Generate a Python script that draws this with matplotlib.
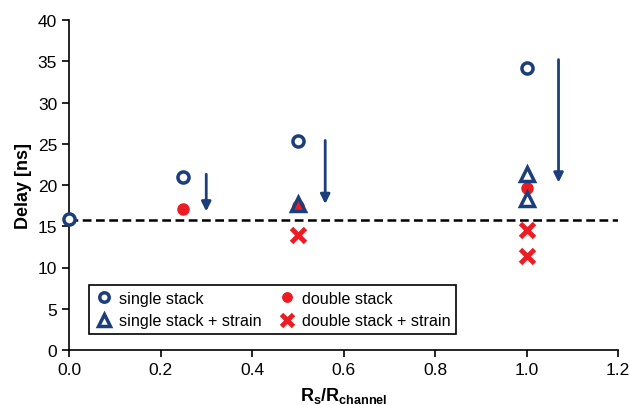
import matplotlib
matplotlib.use("Agg")
import matplotlib.pyplot as plt

plt.rcParams['font.family'] = ['Liberation Sans', 'DejaVu Sans']

navy = '#1c3f7c'
red = '#ec1c24'

ss_x = [0.0, 0.25, 0.5, 1.0]
ss_y = [15.9, 21.0, 25.3, 34.2]
ds_x = [0.25, 0.5, 1.0]
ds_y = [17.1, 17.4, 19.6]
sss_x = [0.5, 1.0, 1.0]
sss_y = [17.7, 21.3, 18.3]
dss_x = [0.5, 1.0, 1.0]
dss_y = [14.0, 14.5, 11.4]
baseline = 15.8
arrow_x = [0.3, 0.56, 1.07]
arrow_top = [21.3, 25.4, 35.2]
arrow_bot = [16.8, 17.7, 20.3]

fig = plt.figure(figsize=(6.3, 4.06), dpi=100)
ax = fig.add_axes([69/630, 1-351/406, (618-69)/630, (351-21)/406])

ax.axhline(baseline, color='black', ls=(0, (3.5, 1.8)), lw=1.8, zorder=1)

ax.plot(ds_x, ds_y, 'o', color=red, ms=8, mec=red, ls='none', label='double stack', zorder=3, clip_on=False)
ax.plot(ss_x, ss_y, 'o', mfc='white', mec=navy, mew=2.5, ms=8, ls='none', label='single stack', zorder=4, clip_on=False)
ax.plot(sss_x, sss_y, '^', mfc='none', mec=navy, mew=2.5, ms=9.5, ls='none', label='single stack + strain', zorder=4, clip_on=False)
ax.plot(dss_x, dss_y, 'x', color=red, mew=3.5, ms=9.5, ls='none', label='double stack + strain', zorder=3, clip_on=False)

for x, t, b in zip(arrow_x, arrow_top, arrow_bot):
    ax.annotate('', xy=(x, b), xytext=(x, t),
                arrowprops=dict(arrowstyle='-|>', color=navy, lw=2, mutation_scale=14,
                                shrinkA=0, shrinkB=0))

ax.set_xlim(0, 1.2)
ax.set_ylim(0, 40)
ax.set_xticks([0, 0.2, 0.4, 0.6, 0.8, 1.0, 1.2])
ax.set_xticklabels(['0.0', '0.2', '0.4', '0.6', '0.8', '1.0', '1.2'])
ax.set_yticks(range(0, 41, 5))
ax.spines['top'].set_visible(False)
ax.spines['right'].set_visible(False)
for s in ('left', 'bottom'):
    ax.spines[s].set_linewidth(1.2)
ax.tick_params(labelsize=12.5, direction='out', length=5, width=1.2)
ax.set_xlabel(r'R$_\mathregular{s}$/R$_\mathregular{channel}$', fontsize=13, fontweight='bold', labelpad=6)
ax.set_ylabel('Delay [ns]', fontsize=13, fontweight='bold', labelpad=4)

h, l = ax.get_legend_handles_labels()
order = [1, 2, 0, 3]
leg = ax.legend([h[i] for i in order], [l[i] for i in order], ncol=2, loc='lower left',
                bbox_to_anchor=(20/549, 16/330), borderaxespad=0, fancybox=False, edgecolor='black',
                fontsize=11.6, handletextpad=0.3, columnspacing=1.0, borderpad=0.35,
                handlelength=1.2, labelspacing=0.45, framealpha=1, markerscale=0.85)
leg.get_frame().set_linewidth(1.2)

fig.savefig('out.png', dpi=100)
